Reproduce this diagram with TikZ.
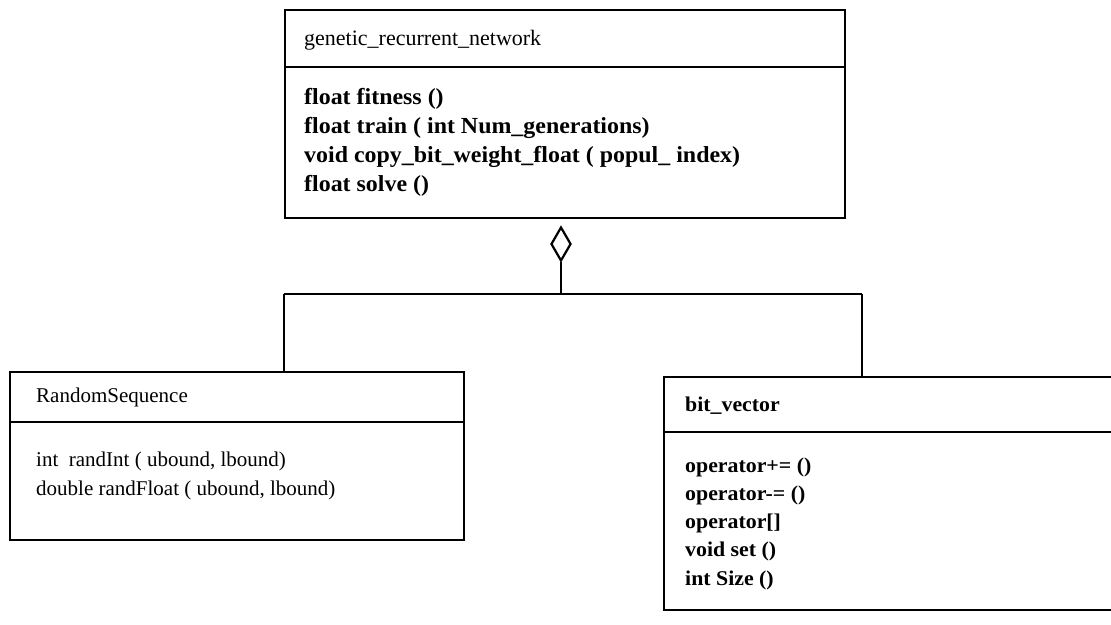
\documentclass[tikz,border=0pt]{standalone}
\usepackage{fontspec}
\setmainfont{Liberation Serif}
\newfontfamily\tfont{Liberation Serif}
\newfontfamily\mfont{Liberation Serif Bold}[FakeStretch=1.04]
\usetikzlibrary{shapes.geometric}
\begin{document}
\begin{tikzpicture}[x=1pt,y=-1pt,
  box/.style={draw, line width=2.2pt, rectangle, inner sep=0pt, anchor=north west},
  ttl/.style={anchor=base west, inner sep=0pt, font=\tfont\fontsize{22}{26}\selectfont},
  rsl/.style={anchor=base west, inner sep=0pt, font=\tfont\fontsize{21}{26}\selectfont},
  lbl/.style={anchor=base west, inner sep=0pt, font=\mfont\fontsize{23}{26}\selectfont},
  bvl/.style={anchor=base west, inner sep=0pt, font=\mfont\fontsize{21}{26}\selectfont},
  conn/.style={line width=2.2pt},
  agg/.style={draw, line width=2.2pt, diamond, inner sep=0pt, minimum width=20pt, minimum height=34pt, fill=white}]
\useasboundingbox (0,0) rectangle (1111,624);
% genetic_recurrent_network
\node[box, minimum width=560pt, minimum height=208pt] (grn) at (284,9) {};
\draw[conn] (284,67) -- (844,67);
\node[ttl] (grnT) at (304,45) {genetic\_recurrent\_network};
\node[lbl] (grn1) at (304,104) {float fitness ()};
\node[lbl] (grn2) at (304,133) {float train ( int Num\_generations)};
\node[lbl] (grn3) at (304,162) {void copy\_bit\_weight\_float ( popul\_ index)};
\node[lbl] (grn4) at (304,191) {float solve ()};
% RandomSequence
\node[box, minimum width=454pt, minimum height=168pt] (rs) at (9,371) {};
\draw[conn] (9,422) -- (463,422);
\node[rsl] (rsT) at (36,402) {RandomSequence};
\node[rsl] (rs1) at (36,466) {int\ \ randInt ( ubound, lbound)};
\node[rsl] (rs2) at (36,495) {double randFloat ( ubound, lbound)};
% bit_vector
\node[box, minimum width=460pt, minimum height=233pt] (bv) at (663,376) {};
\draw[conn] (663,432) -- (1123,432);
\node[bvl] (bvT) at (685,411) {bit\_vector};
\node[bvl] (bv1) at (685,472) {operator+= ()};
\node[bvl] (bv2) at (685,500) {operator-= ()};
\node[bvl] (bv3) at (685,528) {operator[]};
\node[bvl] (bv4) at (685,556) {void set ()};
\node[bvl] (bv5) at (685,585) {int Size ()};
% aggregation
\node[agg] (dia) at (561,244) {};
\coordinate (j) at (561,294);
\draw[conn] (dia.south) -- (j);
\draw[conn] (284,294) -- (862,294);
\draw[conn] (rs.north -| 284,0) -- (284,294);
\draw[conn] (bv.north -| 862,0) -- (862,294);
\end{tikzpicture}
\end{document}
